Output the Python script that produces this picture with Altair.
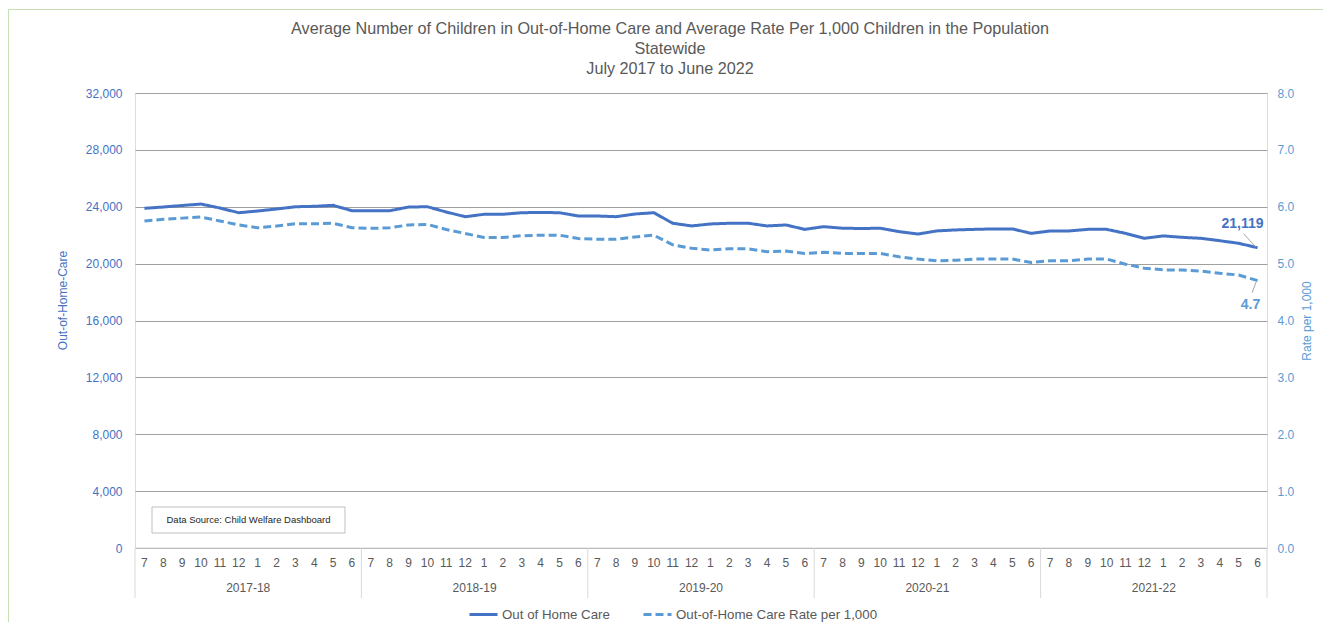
import altair as alt
import pandas as pd

# ---------------- data ----------------
years = ["2017-18", "2018-19", "2019-20", "2020-21", "2021-22"]
months = ["7", "8", "9", "10", "11", "12", "1", "2", "3", "4", "5", "6"]
series_names = ["Out of Home Care", "Out-of-Home Care Rate per 1,000"]

ohc = [
    23890, 23980, 24090, 24190, 23910, 23580, 23700, 23840, 24000, 24030, 24100, 23720,
    23720, 23720, 23980, 24000, 23630, 23300, 23470, 23470, 23580, 23600, 23580, 23350,
    23350, 23300, 23490, 23580, 22840, 22650, 22790, 22840, 22840, 22650, 22720, 22410,
    22600, 22490, 22470, 22490, 22250, 22080, 22300, 22370, 22410, 22440, 22440, 22130,
    22300, 22300, 22410, 22410, 22130, 21780, 21950, 21850, 21780, 21610, 21430, 21119,
]
rate = [
    5.75, 5.78, 5.80, 5.82, 5.75, 5.68, 5.63, 5.66, 5.70, 5.70, 5.71, 5.63,
    5.62, 5.63, 5.68, 5.69, 5.60, 5.53, 5.46, 5.46, 5.49, 5.50, 5.50, 5.44,
    5.43, 5.43, 5.47, 5.50, 5.33, 5.27, 5.24, 5.26, 5.26, 5.21, 5.22, 5.18,
    5.20, 5.18, 5.18, 5.18, 5.12, 5.08, 5.05, 5.06, 5.08, 5.08, 5.08, 5.02,
    5.05, 5.05, 5.08, 5.08, 4.99, 4.92, 4.89, 4.89, 4.87, 4.83, 4.80, 4.70,
]
left_ticks = [0, 4000, 8000, 12000, 16000, 20000, 24000, 28000, 32000]
right_ticks = [0, 1, 2, 3, 4, 5, 6, 7, 8]
source_text = "Data Source: Child Welfare Dashboard"
title_lines = [
    "Average Number of Children in Out-of-Home  Care and Average Rate Per 1,000 Children in the Population",
    "Statewide",
    "July 2017 to June 2022",
]

# ---------------- tables ----------------
n = len(ohc)
idx = list(range(n))
df = pd.DataFrame({
    "idx": idx * 2,
    "value": ohc + rate,
    "series": [series_names[0]] * n + [series_names[1]] * n,
})
df_months = pd.DataFrame({"idx": idx, "month": months * len(years)})
df_years = pd.DataFrame({"year": years, "mid": [12 * k + 5.5 for k in range(len(years))]})
df_bounds = pd.DataFrame({"b": [12 * k - 0.5 for k in range(len(years) + 1)]})
one = pd.DataFrame({"a": [0]})

W, H = 1132, 455
FONT = "Liberation Sans"
BLUE = "#4472C4"
LBLUE = "#5B9BD5"
GREY_TXT = "#595959"

x_scale = alt.Scale(domain=[-0.5, n - 0.5], nice=False, zero=False)
x_noaxis = alt.X("idx:Q", scale=x_scale, axis=None)

legend_def = alt.Legend(
    orient="none", legendX=333, legendY=506, direction="horizontal", title=None,
    symbolType="stroke", symbolSize=784, symbolStrokeWidth=3,
    labelFontSize=13.3, labelFont=FONT, labelColor=GREY_TXT, labelOffset=3,
    labelLimit=400, columnPadding=27,
)
color_enc = alt.Color("series:N", scale=alt.Scale(domain=series_names, range=[BLUE, LBLUE]),
                      legend=legend_def)
dash_enc = alt.StrokeDash("series:N", scale=alt.Scale(domain=series_names, range=[[1, 0], [8, 4]]),
                          legend=legend_def)

y_left = alt.Y(
    "value:Q",
    scale=alt.Scale(domain=[0, 32000], nice=False),
    axis=alt.Axis(
        values=left_ticks, format=",.0f", orient="left", domain=False, ticks=False,
        grid=True, gridColor="#A0A0A0", gridWidth=1,
        labelColor=BLUE, labelFontSize=12, labelFont=FONT, labelPadding=13,
        title="Out-of-Home-Care", titleColor=BLUE, titleFontSize=12, titleFont=FONT,
        titleFontWeight="normal", titlePadding=16, titleY=207,
    ),
)
y_right = alt.Y(
    "value:Q",
    scale=alt.Scale(domain=[0, 8], nice=False),
    axis=alt.Axis(
        values=right_ticks, format=".1f", orient="right", domain=False, ticks=False,
        grid=False, labelColor=LBLUE, labelFontSize=12, labelFont=FONT, labelPadding=10,
        title="Rate per 1,000", titleColor=LBLUE, titleFontSize=12, titleFont=FONT,
        titleFontWeight="normal", titleAngle=270, titlePadding=20,
    ),
)

base = alt.Chart(df)

# left-axis group
ohc_data = base.transform_filter(alt.datum.series == series_names[0])
line_a = ohc_data.mark_line(strokeWidth=3).encode(
    x=x_noaxis, y=y_left, color=color_enc, strokeDash=dash_enc
)
last_a = ohc_data.transform_filter(alt.datum.idx == n - 1)
text_a = last_a.mark_text(
    font=FONT, fontSize=14, fontWeight="bold", color=BLUE, dx=-15, dy=-24
).encode(x=x_noaxis, y=y_left, text=alt.Text("value:Q", format=",.0f"))
lead_a = last_a.mark_rule(
    color="#A6A6A6", strokeWidth=1, xOffset=-2, yOffset=-1, x2Offset=-14, y2Offset=-14
).encode(x=x_noaxis, x2="idx:Q", y=y_left, y2="value:Q")
group_a = alt.layer(line_a, lead_a, text_a)

# right-axis group
rate_data = base.transform_filter(alt.datum.series == series_names[1])
line_b = rate_data.mark_line(strokeWidth=3).encode(
    x=x_noaxis, y=y_right, color=color_enc, strokeDash=dash_enc
)
last_b = rate_data.transform_filter(alt.datum.idx == n - 1)
text_b = last_b.mark_text(
    font=FONT, fontSize=14, fontWeight="bold", color=LBLUE, dx=-7, dy=24
).encode(x=x_noaxis, y=y_right, text=alt.Text("value:Q", format=".1f"))
lead_b = last_b.mark_rule(
    color="#A6A6A6", strokeWidth=1, xOffset=-1.5, yOffset=1.5, x2Offset=-5.5, y2Offset=12
).encode(x=x_noaxis, x2="idx:Q", y=y_right, y2="value:Q")
group_b = alt.layer(line_b, lead_b, text_b)

# category axis: base line, month labels, year dividers and year labels
axis_line = alt.Chart(one).mark_rule(color="#D9D9D9", strokeWidth=1).encode(
    x=alt.value(0), x2=alt.value(W), y=alt.value(H)
)
month_text = alt.Chart(df_months).mark_text(
    font=FONT, fontSize=12, color=GREY_TXT, baseline="middle"
).encode(x=x_noaxis, y=alt.value(H + 15), text="month:N")
dividers = alt.Chart(df_bounds).mark_rule(color="#D9D9D9", strokeWidth=1).encode(
    x=alt.X("b:Q", scale=x_scale, axis=None), y=alt.value(H), y2=alt.value(H + 50)
)
year_text = alt.Chart(df_years).mark_text(
    font=FONT, fontSize=12, color=GREY_TXT, baseline="middle"
).encode(x=alt.X("mid:Q", scale=x_scale, axis=None), y=alt.value(H + 40), text="year:N")

# data source box
src_box = alt.Chart(one).mark_rect(fill="white", stroke="#BFBFBF", strokeWidth=1).encode(
    x=alt.value(17), x2=alt.value(210), y=alt.value(414), y2=alt.value(440)
)
src_text = alt.Chart(one).mark_text(
    font=FONT, fontSize=9.5, color="#262626", baseline="middle", align="center"
).encode(x=alt.value(113.5), y=alt.value(427), text=alt.value(source_text))

# chart area border
border = alt.Chart(one).mark_rect(fillOpacity=0, stroke="#C5E0B4", strokeWidth=1).encode(
    x=alt.value(-126.5), x2=alt.value(W + 250), y=alt.value(-83.5), y2=alt.value(H + 100)
)

chart = alt.layer(
    border, axis_line, dividers, month_text, year_text, src_box, src_text, group_a, group_b
).resolve_scale(y="independent").resolve_axis(y="independent").properties(
    width=W, height=H,
    padding={"left": 127, "top": 85, "right": 56, "bottom": 74},
    autosize=alt.AutoSizeParams(type="none"),
    title=alt.TitleParams(
        text=title_lines, font=FONT, fontSize=16.2, fontWeight="normal", color=GREY_TXT,
        anchor="middle", frame="group", dx=-31, dy=80, offset=12, lineHeight=20,
    ),
).configure_view(stroke=None).configure(background="white")

chart.save("out.html", embed_options={"renderer": "svg", "actions": False})
